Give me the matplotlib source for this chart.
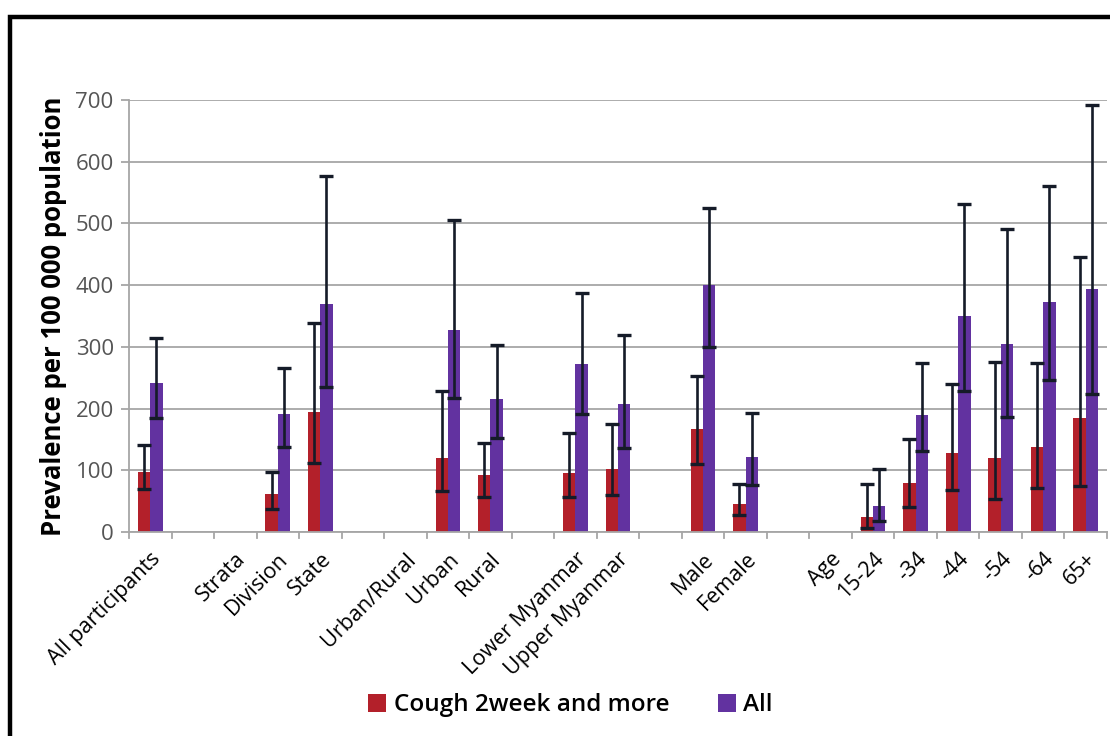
import matplotlib.pyplot as plt
import numpy as np
from matplotlib.patches import Rectangle

plt.rcParams['font.family'] = ['Open Sans', 'DejaVu Sans']

# categories (blank entries are spacer slots between groups)
labels = ['All participants', '', 'Strata', 'Division', 'State', '', 'Urban/Rural',
          'Urban', 'Rural', '', 'Lower Myanmar', 'Upper Myanmar', '', 'Male', 'Female',
          '', 'Age', '15-24', '-34', '-44', '-54', '-64', '65+']

nan = np.nan
cough = [98, nan, nan, 61, 194, nan, nan, 120, 92, nan, 96, 102, nan, 167, 45,
         nan, nan, 25, 79, 128, 120, 138, 184]
cough_lo = [69, nan, nan, 38, 112, nan, nan, 66, 57, nan, 57, 60, nan, 110, 28,
            nan, nan, 7, 41, 68, 53, 72, 75]
cough_hi = [141, nan, nan, 97, 339, nan, nan, 228, 144, nan, 160, 175, nan, 252, 78,
            nan, nan, 78, 151, 240, 276, 274, 446]

all_ = [242, nan, nan, 191, 369, nan, nan, 328, 215, nan, 273, 207, nan, 400, 122,
        nan, nan, 42, 189, 350, 304, 373, 394]
all_lo = [184, nan, nan, 137, 235, nan, nan, 217, 153, nan, 192, 136, nan, 300, 76,
          nan, nan, 18, 131, 229, 187, 246, 223]
all_hi = [315, nan, nan, 266, 577, nan, nan, 505, 303, nan, 387, 319, nan, 525, 193,
          nan, nan, 102, 274, 531, 491, 561, 692]

red = '#B3202A'
purple = '#6232A0'
errc = '#151b28'

fig = plt.figure(figsize=(11.1, 7.36), dpi=100)
ax = fig.add_axes([0.1162, 0.2772, 0.8811, 0.5869])

x = np.arange(len(labels))
w = 0.29
c = np.array(cough, dtype=float)
a = np.array(all_, dtype=float)
c_err = [c - np.array(cough_lo), np.array(cough_hi) - c]
a_err = [a - np.array(all_lo), np.array(all_hi) - a]

ax.bar(x - w / 2, c, w, color=red, label='Cough 2week and more', zorder=2)
ax.bar(x + w / 2, a, w, color=purple, label='All', zorder=2)
ax.errorbar(x - w / 2, c, yerr=c_err, fmt='none', ecolor=errc, elinewidth=1.9,
            capsize=5, capthick=2.4, zorder=3)
ax.errorbar(x + w / 2, a, yerr=a_err, fmt='none', ecolor=errc, elinewidth=1.9,
            capsize=5, capthick=2.4, zorder=3)

ax.set_xlim(-0.5, len(labels) - 0.5)
ax.set_ylim(0, 700)
ax.set_yticks(range(0, 701, 100))
ax.yaxis.grid(True, color='#a6a6a6', linewidth=1.3, zorder=0)
ax.set_axisbelow(True)

# category labels sit at centres, tick marks at category boundaries
ax.set_xticks(x)
ax.set_xticklabels(labels, rotation=45, ha='right', rotation_mode='anchor',
                   fontsize=15.5, color='black')
ax.tick_params(axis='x', length=0, pad=12)
for b in np.arange(-0.5, len(labels) + 0.5, 1.0):
    ax.plot([b, b], [0, -0.014], transform=ax.get_xaxis_transform(),
            color='#a6a6a6', linewidth=1.3, clip_on=False)

ax.tick_params(axis='y', length=6, width=1.3, color='#a6a6a6',
               labelsize=16, labelcolor='#555555', pad=5)
for s in ['top', 'right']:
    ax.spines[s].set_visible(False)
ax.spines['left'].set_color('#a6a6a6')
ax.spines['left'].set_linewidth(1.3)
ax.spines['bottom'].set_color('#a6a6a6')
ax.spines['bottom'].set_linewidth(1.3)

ax.set_ylabel('Prevalence per 100 000 population', fontsize=18.5,
              fontweight='bold', labelpad=6)

fig.legend(loc='center', bbox_to_anchor=(0.514, 0.042), ncol=2, frameon=False,
           handlelength=0.75, handleheight=0.75, handletextpad=0.3,
           columnspacing=2.0, prop={'size': 17.5, 'weight': 'semibold'})

# outer frame
fig.patches.append(Rectangle((10 / 1110, -0.1), 1.2, 0.1 + (736 - 17) / 736,
                             transform=fig.transFigure, fill=False,
                             edgecolor='black', linewidth=3.2))

fig.savefig('out.png', dpi=100)
